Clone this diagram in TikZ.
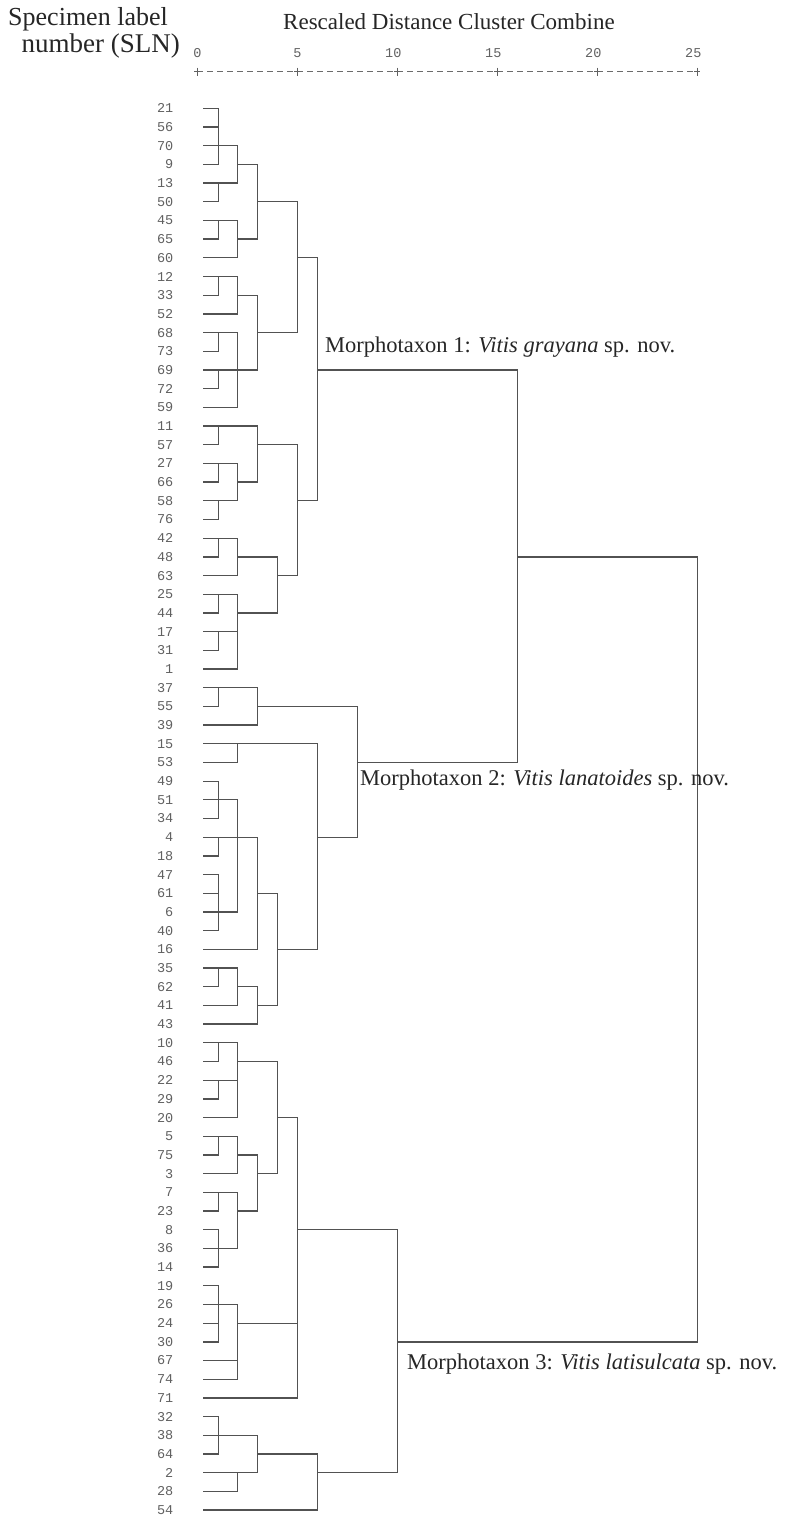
\documentclass[tikz,border=0pt]{standalone}
\usepackage{fontspec}
\setmainfont{Liberation Serif}
\newfontfamily\monof{Liberation Mono}
\begin{document}
\begin{tikzpicture}[x=1pt,y=-1pt,
  dend/.style={draw=black!68, line width=1.3pt, line cap=rect},
  leaflab/.style={anchor=east, inner sep=0pt, text=black!62, font=\monof\fontsize{13.5}{14}\selectfont},
  ticklab/.style={anchor=base east, inner sep=0pt, text=black!62, font=\monof\fontsize{13.5}{14}\selectfont},
  axisline/.style={draw=black!58, line width=1.1pt, dash pattern=on 6pt off 4pt},
  tickmark/.style={draw=black!62, line width=1.4pt},
  serifbig/.style={inner sep=0pt, text=black!85, font=\fontsize{26}{30}\selectfont},
  serifbigb/.style={inner sep=0pt, text=black!85, font=\fontsize{27}{30}\selectfont},
  titletext/.style={inner sep=0pt, anchor=base west, text=black!85, font=\fontsize{23}{27}\selectfont},
  taxon/.style={inner sep=0pt, anchor=base west, text=black!85, font=\fontsize{22.5}{26}\selectfont}]
\useasboundingbox[fill=white] (0,0) rectangle (794,1515);

% headings
\node[titletext] (title) at (283,29) {Rescaled Distance Cluster Combine};
\node[serifbig, anchor=base east] (slnA) at (168,25) {Specimen label};
\node[serifbigb, anchor=base east] (slnB) at (180,52) {number (SLN)};

% axis
\coordinate (axL) at (197.3,71.7);
\coordinate (axR) at (697.3,71.7);
\draw[axisline] (axL) -- (axR);
\foreach \t [count=\k from 0] in {0,5,10,15,20,25} {
  \pgfmathsetmacro\tx{197.3+20*\t}
  \draw[tickmark] (\tx,67.5) -- (\tx,76);
  \draw[tickmark] (\tx-3,71.7) -- (\tx+3,71.7);
  \node[ticklab] (tick\k) at (\tx+4.3,57) {\t};
}

% leaf labels
\foreach \lab [count=\i from 0] in {21,56,70,9,13,50,45,65,60,12,33,52,68,73,69,72,59,11,57,27,66,58,76,42,48,63,25,44,17,31,1,37,55,39,15,53,49,51,34,4,18,47,61,6,40,16,35,62,41,43,10,46,22,29,20,5,75,3,7,23,8,36,14,19,26,24,30,67,74,71,32,38,64,2,28,54} {
  \node[leaflab] (leaf\i) at (173.5,{108.3+18.69*\i}) {\lab};
}

% horizontal segments: row / from level / to level
\foreach \rr/\da/\db in {
0/0/1, 1/0/1, 2/0/2, 3/0/1, 3/2/3, 4/0/2, 5/0/1, 5/3/5, 6/0/2, 7/0/1, 7/2/3, 8/0/2, 8/5/6, 9/0/2, 10/0/1, 10/2/3, 11/0/2, 12/0/2, 12/3/5, 13/0/1, 14/0/3, 14/6/16, 15/0/1, 16/0/2, 17/0/3, 18/0/1, 18/3/5, 19/0/2, 20/0/1, 20/2/3, 21/0/2, 21/5/6, 22/0/1, 23/0/2, 24/0/1, 24/2/4, 24/16/25, 25/0/2, 25/4/5, 26/0/2, 27/0/1, 27/2/4, 28/0/2, 29/0/1, 30/0/2,
31/0/3, 32/0/1, 32/3/8, 33/0/3, 34/0/6, 35/0/2, 35/8/16, 36/0/1, 37/0/2, 38/0/1, 39/0/3, 39/6/8, 40/0/1, 41/0/1, 42/0/1, 42/3/4, 43/0/2, 44/0/1, 45/0/3, 45/4/6, 46/0/2, 47/0/1, 47/2/3, 48/0/2, 48/3/4, 49/0/3,
50/0/2, 51/0/1, 51/2/4, 52/0/2, 53/0/1, 54/0/2, 54/4/5, 55/0/2, 56/0/1, 56/2/3, 57/0/2, 57/3/4, 58/0/2, 59/0/1, 59/2/3, 60/0/1, 60/5/10, 61/0/2, 62/0/1, 63/0/1, 64/0/2, 65/0/1, 65/2/5, 66/0/1, 66/10/25, 67/0/2, 68/0/2, 69/0/5, 70/0/1, 71/0/3, 72/0/1, 72/3/6, 73/0/3, 73/6/10, 74/0/2, 75/0/6} {
  \pgfmathsetmacro\xa{ifthenelse(\da==0,203.3,ifthenelse(\da==1,218.3,197.3+20*\da))}
  \pgfmathsetmacro\xb{ifthenelse(\db==1,218.3,197.3+20*\db)}
  \pgfmathsetmacro\yy{108.3+18.69*\rr}
  \draw[dend] (\xa,\yy) -- (\xb,\yy);
}

% vertical segments: level / from row / to row
\foreach \dd/\ra/\rb in {
1/0/3, 1/4/5, 1/6/7, 1/9/10, 1/12/13, 1/14/15, 1/17/18, 1/19/20, 1/21/22, 1/23/24, 1/26/27, 1/28/29,
2/2/4, 2/6/8, 2/9/11, 2/12/16, 2/19/21, 2/23/25, 2/26/30,
3/3/7, 3/10/14, 3/17/20, 4/24/27, 5/5/12, 5/18/25, 6/8/21,
1/31/32, 1/36/38, 1/39/40, 1/41/44, 1/46/47, 2/34/35, 2/37/43, 2/46/48, 3/31/33, 3/39/45, 3/47/49, 4/42/48, 6/34/45, 8/32/39,
1/50/51, 1/52/53, 1/55/56, 1/58/59, 1/60/62, 1/63/66, 1/70/72, 2/50/54, 2/55/57, 2/58/61, 2/64/68, 2/73/74, 3/56/59, 3/71/73, 4/51/57, 5/54/69, 6/72/75, 10/60/73, 16/14/35, 25/24/66} {
  \pgfmathsetmacro\xx{ifthenelse(\dd==1,218.3,197.3+20*\dd)}
  \pgfmathsetmacro\ya{108.3+18.69*\ra}
  \pgfmathsetmacro\yb{108.3+18.69*\rb}
  \draw[dend] (\xx,\ya) -- (\xx,\yb);
}

% morphotaxon labels
\node[taxon] (m1) at (325,352) {Morphotaxon 1: \textit{Vitis grayana} sp. nov.};
\node[taxon] (m2) at (360,785) {Morphotaxon 2: \textit{Vitis lanatoides} sp. nov.};
\node[taxon] (m3) at (407,1369) {Morphotaxon 3: \textit{Vitis latisulcata} sp. nov.};
\end{tikzpicture}
\end{document}
